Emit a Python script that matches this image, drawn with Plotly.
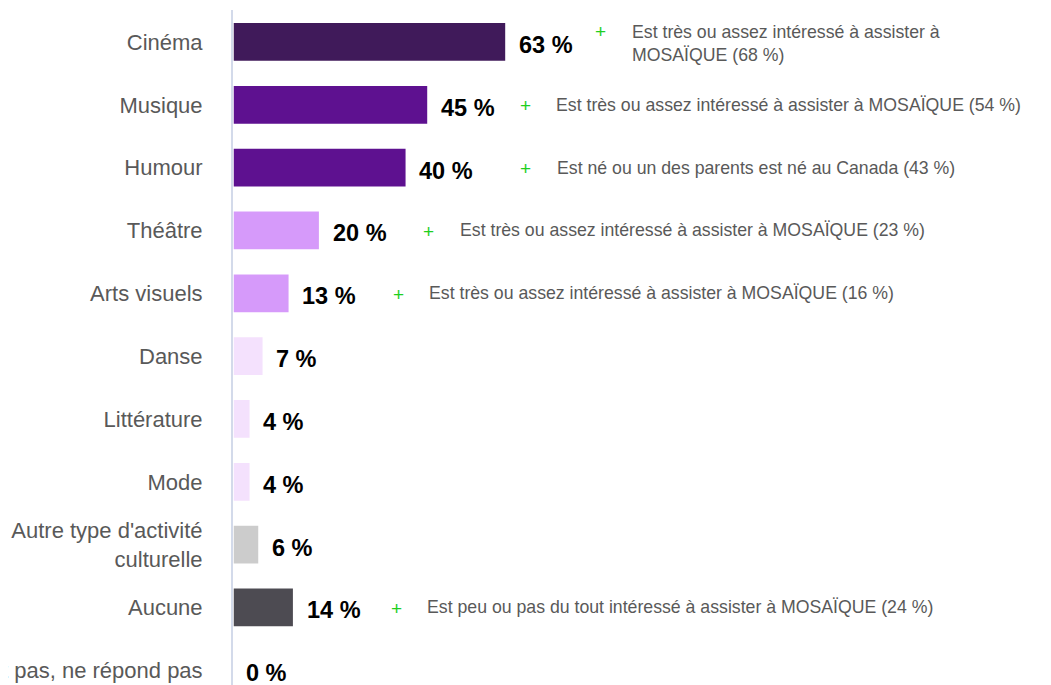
import plotly.graph_objects as go

# ---------------- data ----------------
categories = ["Cinéma", "Musique", "Humour", "Théâtre", "Arts visuels", "Danse",
              "Littérature", "Mode", "Autre type d'activité<br>culturelle", "Aucune",
              "Ne sait pas, ne répond pas"]
values = [63, 45, 40, 20, 13, 7, 4, 4, 6, 14, 0]
value_labels = ["63 %", "45 %", "40 %", "20 %", "13 %", "7 %", "4 %", "4 %", "6 %", "14 %", "0 %"]
notes = {
    "Cinéma": "Est très ou assez intéressé à assister à<br>MOSAÏQUE (68 %)",
    "Musique": "Est très ou assez intéressé à assister à MOSAÏQUE (54 %)",
    "Humour": "Est né ou un des parents est né au Canada (43 %)",
    "Théâtre": "Est très ou assez intéressé à assister à MOSAÏQUE (23 %)",
    "Arts visuels": "Est très ou assez intéressé à assister à MOSAÏQUE (16 %)",
    "Aucune": "Est peu ou pas du tout intéressé à assister à MOSAÏQUE (24 %)",
}

# ---------------- style ----------------
colors = ["#401A5A", "#5E1190", "#5E1190", "#D69AFA", "#D69AFA", "#F4E1FD",
          "#F4E1FD", "#F4E1FD", "#CCCCCC", "#4D4B52", "#CCCCCC"]
# x position (axis units) of the green "+" for each note
note_plus_x = {"Cinéma": 84.9, "Musique": 67.4, "Humour": 67.6,
               "Théâtre": 45.2, "Arts visuels": 38.1, "Aucune": 37.7}
GRAY = "#595959"
GREEN = "#1ECF1E"
FONT = "Liberation Sans, Arial, sans-serif"

idx = list(range(len(categories)))

fig = go.Figure()
fig.add_trace(go.Bar(
    x=values, y=idx, orientation="h",
    marker=dict(color=colors, line=dict(color="white", width=1.5)),
    width=0.625, hoverinfo="skip",
))

annotations = []
for i, (v, lab) in enumerate(zip(values, value_labels)):
    annotations.append(dict(x=v, y=i, text=f"<b>{lab}</b>", xref="x", yref="y",
                            xanchor="left", yanchor="middle", xshift=11, yshift=-3,
                            showarrow=False, font=dict(family=FONT, size=23.5, color="black")))

for cat, txt in notes.items():
    i = categories.index(cat)
    px = note_plus_x[cat]
    multi = "<br>" in txt
    annotations.append(dict(x=px, y=i, text="+", xref="x", yref="y",
                            xanchor="center", yanchor="middle",
                            yshift=10 if multi else -1,
                            showarrow=False, font=dict(family=FONT, size=19, color=GREEN)))
    annotations.append(dict(x=px, y=i, text=txt, xref="x", yref="y",
                            xanchor="left", yanchor="middle", align="left",
                            xshift=29, yshift=-2 if multi else 0,
                            showarrow=False, font=dict(family=FONT, size=17.7, color=GRAY)))

fig.update_layout(
    width=1043, height=677,
    margin=dict(l=225, r=0, t=2, b=0),
    plot_bgcolor="white", paper_bgcolor="white",
    showlegend=False,
    annotations=annotations,
    xaxis=dict(range=[0, 188.8], visible=False, showgrid=False, zeroline=False,
               automargin=False),
    yaxis=dict(range=[10.234, -0.509], tickvals=idx, ticktext=categories,
               showgrid=False, zeroline=False, showline=True, linecolor="#D3DAEA",
               linewidth=2, ticks="", ticklabelstandoff=24,
               tickfont=dict(family=FONT, size=22, color=GRAY),
               automargin=False, layer="below traces"),
)

fig.write_html("out.html")
